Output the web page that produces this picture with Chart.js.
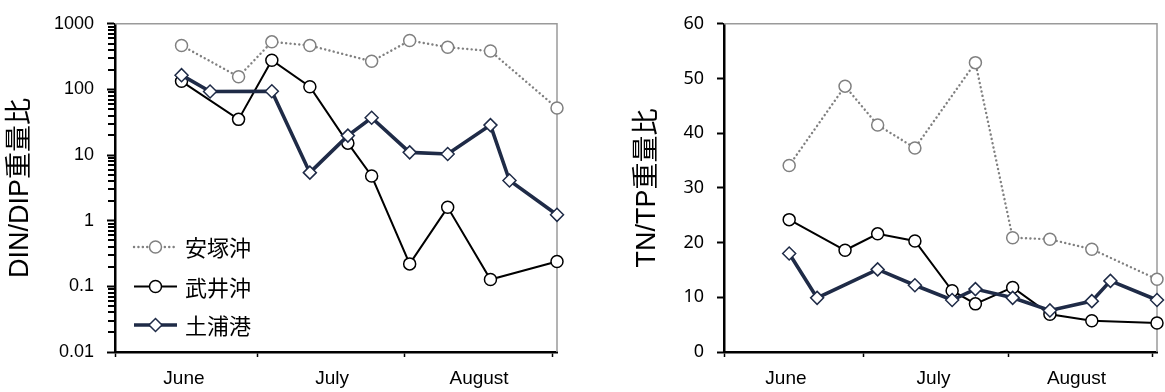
<!DOCTYPE html>
<html>
<head>
<meta charset="utf-8">
<script src="https://cdn.jsdelivr.net/npm/chart.js@4.4.1/dist/chart.umd.min.js"></script>
<style>
  html, body { margin: 0; padding: 0; background: #fff; }
  #wrap { position: relative; width: 1165px; height: 392px; overflow: hidden; }
  #ratioLeft { position: absolute; left: 0; top: 0; }
  #ratioRight { position: absolute; left: 600px; top: 0; }
</style>
</head>
<body>
<div id="wrap">
  <canvas id="ratioLeft" width="580" height="392"></canvas>
  <canvas id="ratioRight" width="565" height="392"></canvas>
</div>
<script>
// Sampling days, counted from 1 June
const daysYasuzuka = [14, 26, 33, 41, 54, 62, 70, 79, 93];
const daysTakei    = [14, 26, 33, 41, 49, 54, 62, 70, 79, 93];
const daysTsuchiura = [14, 20, 33, 41, 49, 54, 62, 70, 79, 83, 93];

// DIN/DIP weight ratio
const dinYasuzuka = [467, 156, 531, 467, 268, 555, 440, 384, 52];
const dinTakei    = [133, 35, 278, 110, 15.2, 4.8, 0.22, 1.6, 0.127, 0.239];
const dinTsuchiura = [165, 93, 94, 5.4, 19.8, 37, 11.0, 10.4, 28.6, 4.1, 1.23];

// TN/TP weight ratio
const tnYasuzuka = [34.1, 48.6, 41.5, 37.3, 52.9, 20.9, 20.6, 18.8, 13.3];
const tnTakei    = [24.2, 18.6, 21.6, 20.3, 11.2, 8.8, 11.8, 6.9, 5.7, 5.3];
const tnTsuchiura = [18.0, 9.9, 15.1, 12.2, 9.5, 11.5, 9.9, 7.6, 9.3, 13.0, 9.5];

// Series names
const seriesNames = ['安塚沖', '武井沖', '土浦港'];

// Month axis: boundaries (1 Jun, 1 Jul, 1 Aug, 1 Sep) and month names
const monthEdges = [0, 30, 61, 92];
const monthNames = ['June', 'July', 'August'];
const monthLabelDaysLeft = [14.5, 45.7, 76.6];
const monthLabelDaysRight = [13.3, 45, 75.7];

// Y tick labels
const dinTickValues = [0.01, 0.1, 1, 10, 100, 1000];
const dinTickLabels = ['0.01', '0.1', '1', '10', '100', '1000'];
const tnTickValues = [0, 10, 20, 30, 40, 50, 60];

const LATIN = "'Liberation Sans', Arial, 'Noto Sans CJK JP', sans-serif";
const CJK = "'Noto Sans CJK JP', 'Liberation Sans', sans-serif";
const NAVY = '#1f2b47';
const GREY = '#808080';

function toPoints(days, vals) {
  return days.map((d, i) => ({ x: d, y: vals[i] }));
}

function makeSets(a, b, c) {
  return [
    {
      label: seriesNames[0], data: toPoints(daysYasuzuka, a), order: 2,
      borderColor: GREY, borderWidth: 2.4, borderDash: [0.1, 4.3], borderCapStyle: 'round',
      pointStyle: 'circle', pointRadius: 6, pointBorderWidth: 1.5,
      pointBorderColor: GREY, pointBackgroundColor: '#fff', clip: 8, tension: 0
    },
    {
      label: seriesNames[1], data: toPoints(daysTakei, b), order: 1,
      borderColor: '#000', borderWidth: 2,
      pointStyle: 'circle', pointRadius: 6, pointBorderWidth: 1.5,
      pointBorderColor: '#000', pointBackgroundColor: '#fff', clip: 8, tension: 0
    },
    {
      label: seriesNames[2], data: toPoints(daysTsuchiura, c), order: 0,
      borderColor: NAVY, borderWidth: 3.6,
      pointStyle: 'rectRot', pointRadius: 6.5, pointBorderWidth: 1.5,
      pointBorderColor: NAVY, pointBackgroundColor: '#fff', clip: 8, tension: 0
    }
  ];
}

function monthAxis(labelDays) {
  return {
    type: 'linear', min: 0, max: 93,
    afterFit(s) { s.height = 40; },
    afterBuildTicks(s) {
      const vals = monthEdges.concat(labelDays).sort((p, q) => p - q);
      s.ticks = vals.map(v => ({ value: v }));
    },
    ticks: {
      autoSkip: false, maxRotation: 0, padding: 10, color: '#000',
      font: { family: LATIN, size: 19 },
      callback(v) { const i = labelDays.indexOf(v); return i >= 0 ? monthNames[i] : ''; }
    },
    grid: {
      drawOnChartArea: false, tickLength: 5, tickWidth: 1.5,
      tickColor: ctx => (ctx.tick && monthEdges.includes(ctx.tick.value)) ? '#000' : 'rgba(0,0,0,0)'
    },
    border: { color: '#000', width: 2.5 }
  };
}

// Grey top and right edges of the plot area
const framePlugin = {
  id: 'frame',
  beforeDatasetsDraw(chart) {
    const { ctx, chartArea: a } = chart;
    ctx.save();
    ctx.strokeStyle = '#9a9a9a';
    ctx.lineWidth = 1.5;
    ctx.beginPath();
    ctx.moveTo(a.left, a.top);
    ctx.lineTo(a.right, a.top);
    ctx.lineTo(a.right, a.bottom);
    ctx.stroke();
    ctx.restore();
  }
};

// minor tick positions for the log axis: 2..9 within each decade
const dinMinorTicks = [];
dinTickValues.slice(0, -1).forEach(d => {
  for (let m = 2; m <= 9; m++) dinMinorTicks.push(d * m);
});

// Minor tick marks on the logarithmic axis
const minorTickPlugin = {
  id: 'logMinor',
  afterDraw(chart) {
    const ctx = chart.ctx;
    const s = chart.scales.y;
    const x0 = Math.round(chart.chartArea.left) - 7;
    ctx.save();
    ctx.fillStyle = '#000';
    for (const v of dinMinorTicks) {
      const py = Math.round(s.getPixelForValue(v));
      ctx.fillRect(x0, py - 1, 7, 2);
    }
    ctx.restore();
  }
};

// Series key drawn inside the lower-left of the plot
const keyPlugin = {
  id: 'seriesKey',
  afterDraw(chart) {
    const { ctx } = chart;
    const rows = [247, 286.5, 325];
    chart.data.datasets.forEach((ds, i) => {
      const y = rows[i];
      ctx.save();
      ctx.strokeStyle = ds.borderColor;
      ctx.lineWidth = ds.borderWidth;
      ctx.lineCap = ds.borderCapStyle || 'butt';
      ctx.setLineDash(ds.borderDash || []);
      ctx.beginPath();
      ctx.moveTo(134, y);
      ctx.lineTo(177, y);
      ctx.stroke();
      ctx.setLineDash([]);
      ctx.lineCap = 'butt';
      ctx.fillStyle = '#fff';
      ctx.strokeStyle = ds.pointBorderColor;
      ctx.lineWidth = ds.pointBorderWidth;
      ctx.beginPath();
      const cx = 155.5, r = ds.pointRadius;
      if (ds.pointStyle === 'rectRot') {
        ctx.moveTo(cx - r, y); ctx.lineTo(cx, y - r); ctx.lineTo(cx + r, y); ctx.lineTo(cx, y + r); ctx.closePath();
      } else {
        ctx.arc(cx, y, r, 0, Math.PI * 2);
      }
      ctx.fill();
      ctx.stroke();
      ctx.fillStyle = '#000';
      ctx.font = '22px ' + CJK;
      ctx.textBaseline = 'middle';
      ctx.textAlign = 'left';
      ctx.fillText(ds.label, 185, y + 1);
      ctx.restore();
    });
  }
};

new Chart(document.getElementById('ratioLeft'), {
  type: 'line',
  data: { datasets: makeSets(dinYasuzuka, dinTakei, dinTsuchiura) },
  options: {
    responsive: false, animation: false,
    layout: { padding: { top: 19, right: 23, left: 0, bottom: 0 } },
    plugins: { legend: { display: false }, tooltip: { enabled: false } },
    scales: {
      x: monthAxis(monthLabelDaysLeft),
      y: {
        type: 'logarithmic', min: 0.01, max: 1000,
        afterFit(s) { s.width = 115; },
        afterBuildTicks(s) { s.ticks = dinTickValues.map(v => ({ value: v })); },
        ticks: {
          autoSkip: false, padding: 13, color: '#000',
          font: { family: LATIN, size: 18 },
          callback(v) {
            const i = dinTickValues.findIndex(t => Math.abs(t - v) < t * 1e-6);
            return i >= 0 ? dinTickLabels[i] : '';
          }
        },
        grid: { drawOnChartArea: false, tickLength: 8, tickWidth: 2, tickColor: '#000' },
        border: { color: '#000', width: 2.5 },
        title: {
          display: true, text: 'DIN/DIP重量比', color: '#000',
          font: { family: LATIN, size: 27 }, padding: { top: 4, bottom: 0 }
        }
      }
    }
  },
  plugins: [framePlugin, keyPlugin, minorTickPlugin]
});

new Chart(document.getElementById('ratioRight'), {
  type: 'line',
  data: { datasets: makeSets(tnYasuzuka, tnTakei, tnTsuchiura) },
  options: {
    responsive: false, animation: false,
    layout: { padding: { top: 19, right: 0, left: 0, bottom: 0 } },
    plugins: { legend: { display: false }, tooltip: { enabled: false } },
    scales: {
      x: monthAxis(monthLabelDaysRight),
      y: {
        type: 'linear', min: 0, max: 60,
        afterFit(s) { s.width = 124; },
        afterBuildTicks(s) { s.ticks = tnTickValues.map(v => ({ value: v })); },
        ticks: {
          autoSkip: false, padding: 13, color: '#000',
          font: { family: "'Noto Sans', 'Open Sans', sans-serif", size: 18 }
        },
        grid: { drawOnChartArea: false, tickLength: 7, tickWidth: 2, tickColor: '#000' },
        border: { color: '#000', width: 2.5 },
        title: {
          display: true, text: 'TN/TP重量比', color: '#000',
          font: { family: LATIN, size: 27 }, padding: { top: 31, bottom: 0 }
        }
      }
    }
  },
  plugins: [framePlugin]
});
</script>
</body>
</html>
